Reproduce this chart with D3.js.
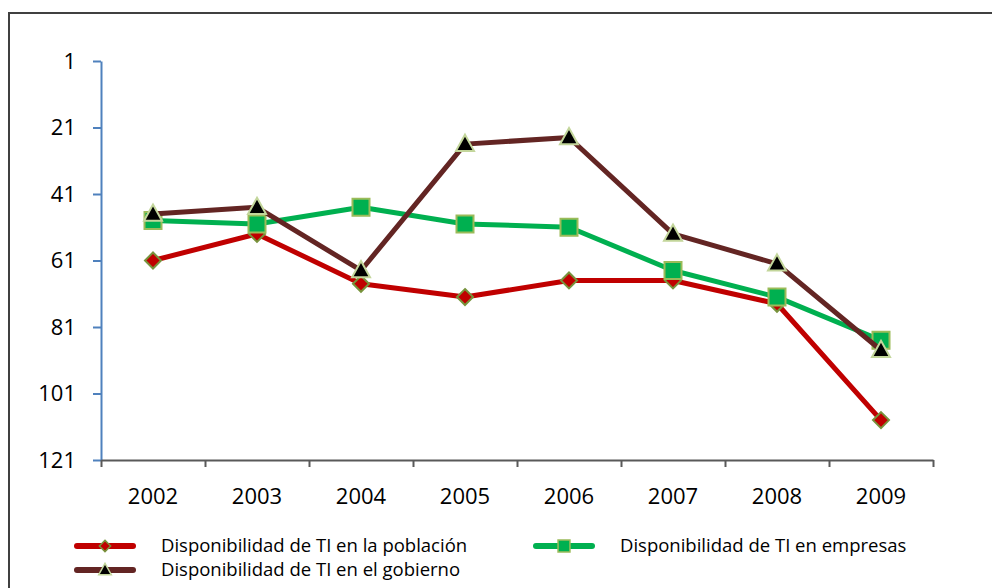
<!DOCTYPE html>
<html>
<head>
<meta charset="utf-8">
<script src="https://cdn.jsdelivr.net/npm/d3@7"></script>
<style>
  body { margin: 0; background: #fff; }
  svg { display: block; font-family: "Open Sans", sans-serif; }
</style>
</head>
<body>
<div id="canvas"></div>
<script>
const w = 992, h = 588;

// chart data
const years = ["2002", "2003", "2004", "2005", "2006", "2007", "2008", "2009"];
const poblacion = [61, 53, 68, 72, 67, 67, 74, 109];
const empresas = [49, 50, 45, 50, 51, 64, 72, 85];
const gobierno = [47, 45, 64, 26, 24, 53, 62, 88];
const yTicks = [1, 21, 41, 61, 81, 101, 121];
const seriesNames = [
  "Disponibilidad de TI en la población",
  "Disponibilidad de TI en empresas",
  "Disponibilidad de TI en el gobierno"
];

const series = [
  { name: seriesNames[0], values: poblacion, color: "#C00000", marker: "diamond",
    mFill: "#C00000", mStroke: "#77933C" },
  { name: seriesNames[1], values: empresas, color: "#00B050", marker: "square",
    mFill: "#00B050", mStroke: "#9BBB59" },
  { name: seriesNames[2], values: gobierno, color: "#632523", marker: "triangle",
    mFill: "#000000", mStroke: "#C3D69B" }
];

const plotL = 101, plotR = 933, plotT = 61, plotB = 460;

let svg = d3.select("#canvas")
            .append("svg")
                .attr("width", w)
                .attr("height", h)
                .attr("viewBox", [0, 0, w, h]);

// outer frame (runs off the page on right/bottom like the original)
svg.append("rect")
    .attr("x", 9).attr("y", 13)
    .attr("width", w + 20).attr("height", h + 20)
    .attr("fill", "none")
    .attr("stroke", "#404040")
    .attr("stroke-width", 2);

let x = d3.scaleBand().domain(years).range([plotL, plotR]);
let xEdge = d3.scaleLinear().domain([0, years.length]).range([plotL, plotR]);
let y = d3.scaleLinear().domain([1, 121]).range([plotT, plotB]);

// y axis
let yAxis = d3.axisLeft(y)
    .tickValues(yTicks)
    .tickSize(8)
    .tickSizeOuter(0)
    .tickPadding(17);
let gY = svg.append("g")
    .attr("transform", "translate(" + plotL + ",0)")
    .call(yAxis);
gY.select(".domain").attr("stroke", "#4F81BD").attr("stroke-width", 2);
gY.selectAll(".tick line").attr("stroke", "#4F81BD").attr("stroke-width", 2);
gY.selectAll(".tick text")
    .attr("font-size", 22)
    .attr("font-family", "Open Sans, sans-serif")
    .attr("fill", "#000");

// x axis: ticks at category boundaries
let xAxis = d3.axisBottom(xEdge)
    .tickValues(d3.range(years.length + 1))
    .tickFormat("")
    .tickSize(7)
    .tickSizeOuter(0);
let gX = svg.append("g")
    .attr("transform", "translate(0," + plotB + ")")
    .call(xAxis);
gX.select(".domain").attr("stroke", "#595959").attr("stroke-width", 2);
gX.selectAll(".tick line").attr("stroke", "#595959").attr("stroke-width", 2);

svg.append("g").selectAll("text")
    .data(years)
    .enter().append("text")
        .attr("x", d => x(d) + x.bandwidth() / 2)
        .attr("y", 504)
        .attr("text-anchor", "middle")
        .attr("font-size", 22)
        .attr("fill", "#000")
        .text(d => d);

function markerPath(type, s) {
  if (type === "diamond") {
    return "M0," + (-s) + "L" + s + ",0L0," + s + "L" + (-s) + ",0Z";
  } else if (type === "square") {
    return "M" + (-s) + "," + (-s) + "H" + s + "V" + s + "H" + (-s) + "Z";
  } else {
    return "M0," + (-s * 1.05) + "L" + s + "," + (s * 0.75) + "L" + (-s) + "," + (s * 0.75) + "Z";
  }
}
const markerSize = { diamond: 8, square: 8.5, triangle: 9 };

let line = d3.line()
    .x((d, i) => x(years[i]) + x.bandwidth() / 2)
    .y(d => y(d));

series.forEach(s => {
  let g = svg.append("g");
  g.append("path")
      .datum(s.values)
      .attr("d", line)
      .attr("fill", "none")
      .attr("stroke", s.color)
      .attr("stroke-width", 5)
      .attr("stroke-linejoin", "round");
  g.selectAll(".mk")
      .data(s.values)
      .enter().append("path")
        .attr("class", "mk")
        .attr("transform", (d, i) => "translate(" + (x(years[i]) + x.bandwidth() / 2) + "," + y(d) + ")")
        .attr("d", markerPath(s.marker, markerSize[s.marker]))
        .attr("fill", s.mFill)
        .attr("stroke", s.mStroke)
        .attr("stroke-width", 2);
});

// legend
const legendPos = [[77, 546], [536, 546], [77, 570]];
series.forEach((s, i) => {
  let lg = svg.append("g")
      .attr("transform", "translate(" + legendPos[i][0] + "," + legendPos[i][1] + ")");
  lg.append("line")
      .attr("x1", 0).attr("x2", 56)
      .attr("y1", 0).attr("y2", 0)
      .attr("stroke", s.color)
      .attr("stroke-width", 6)
      .attr("stroke-linecap", "round");
  lg.append("path")
      .attr("transform", "translate(28,0)")
      .attr("d", markerPath(s.marker, markerSize[s.marker] * 0.7))
      .attr("fill", s.mFill)
      .attr("stroke", s.mStroke)
      .attr("stroke-width", 1.5);
  lg.append("text")
      .attr("x", 84)
      .attr("y", 0)
      .attr("dy", "0.35em")
      .attr("font-size", 18.5)
      .attr("fill", "#000")
      .text(s.name);
});
</script>
</body>
</html>
